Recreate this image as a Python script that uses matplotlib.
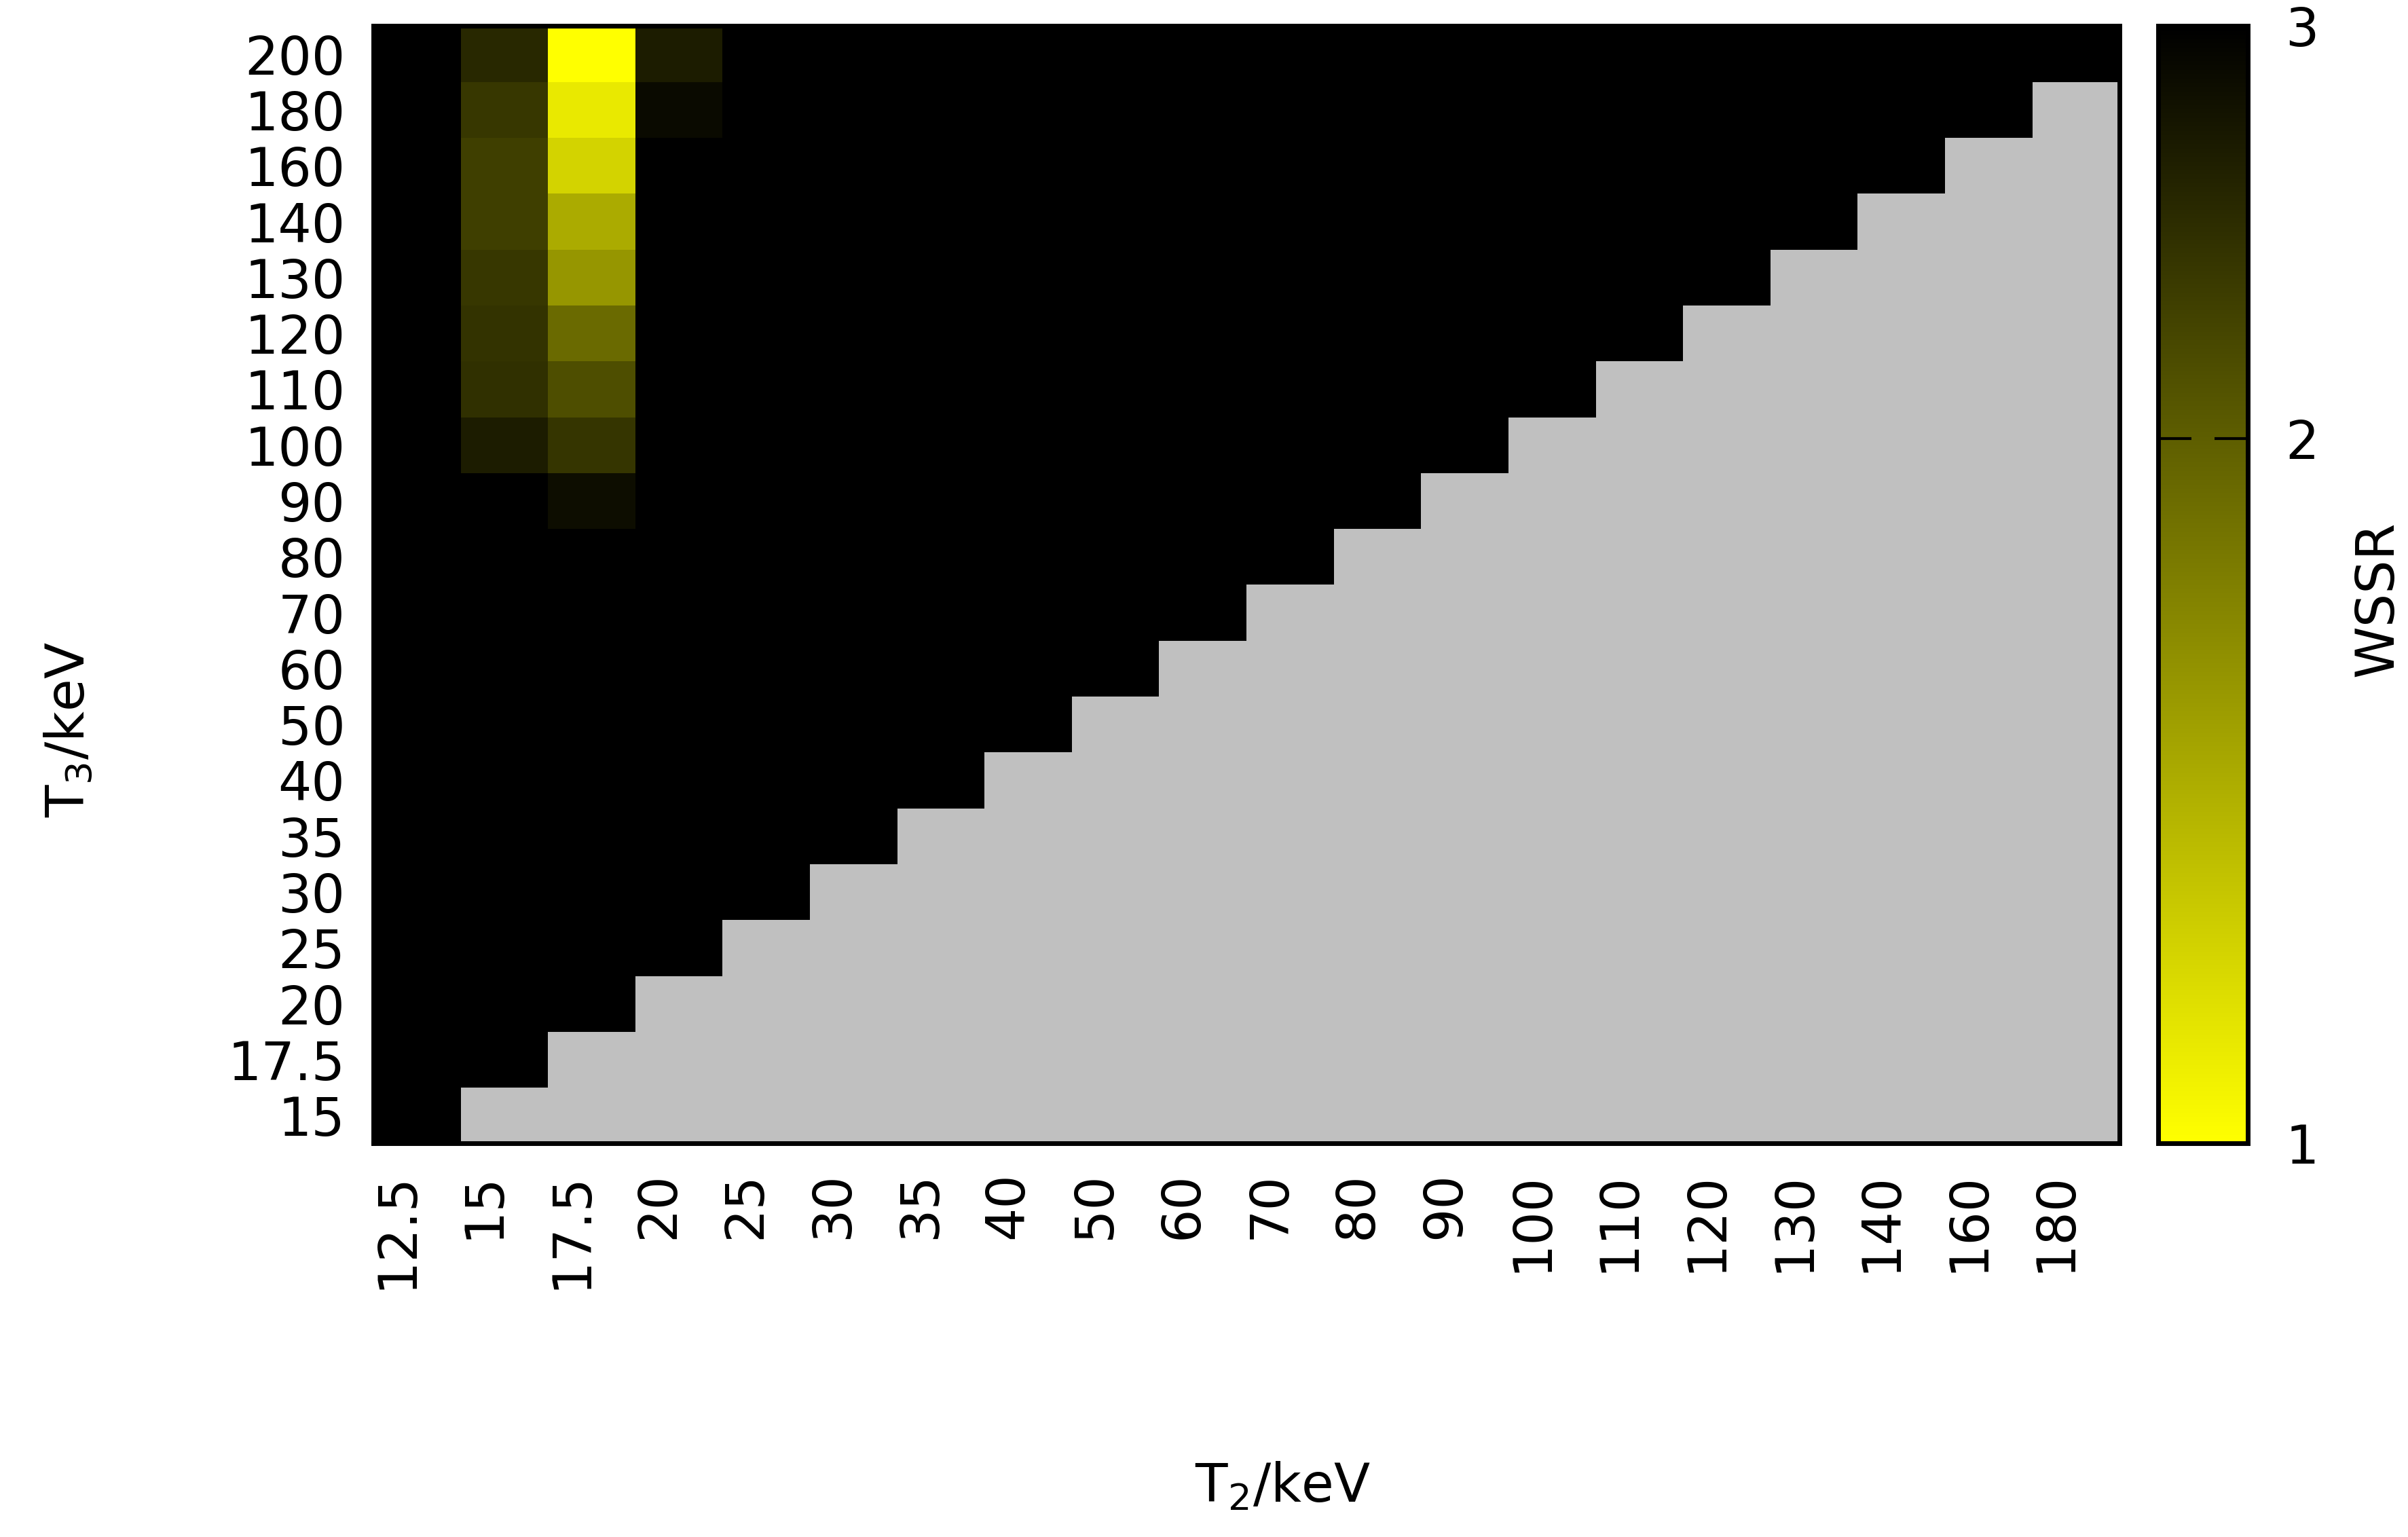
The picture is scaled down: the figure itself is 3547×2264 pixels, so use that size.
import numpy as np
import matplotlib
matplotlib.use('Agg')
import matplotlib.pyplot as plt
import matplotlib.transforms as mtransforms
from matplotlib.colors import LinearSegmentedColormap, LogNorm

# axis categories (keV)
t2_labels = ['12.5', '15', '17.5', '20', '25', '30', '35', '40', '50', '60',
             '70', '80', '90', '100', '110', '120', '130', '140', '160', '180']
t3_labels = ['15', '17.5', '20', '25', '30', '35', '40', '50', '60', '70',
             '80', '90', '100', '110', '120', '130', '140', '160', '180', '200']
t2_vals = [float(s) for s in t2_labels]
t3_vals = [float(s) for s in t3_labels]

# WSSR, per T2 column, rows T3 = 15 ... 200
wssr_125 = [3.0] * 20
wssr_15 = [3.0, 3.0, 3.0, 3.0, 3.0, 3.0, 3.0, 3.0, 3.0, 3.0,
           3.0, 3.0, 2.66, 2.44, 2.41, 2.36, 2.28, 2.28, 2.36, 2.52]
wssr_175 = [3.0, 3.0, 3.0, 3.0, 3.0, 3.0, 3.0, 3.0, 3.0, 3.0,
            3.0, 2.83, 2.38, 2.14, 1.90, 1.57, 1.44, 1.21, 1.10, 1.0]
wssr_20 = [3.0, 3.0, 3.0, 3.0, 3.0, 3.0, 3.0, 3.0, 3.0, 3.0,
           3.0, 3.0, 3.0, 3.0, 3.0, 3.0, 3.0, 3.0, 2.87, 2.66]
wssr_rest = 3.0  # everything else saturates at the top of the scale

Z = np.full((len(t3_vals), len(t2_vals)), wssr_rest)
Z[:, 0] = wssr_125
Z[:, 1] = wssr_15
Z[:, 2] = wssr_175
Z[:, 3] = wssr_20
# no fit where T3 <= T2
for i, t3 in enumerate(t3_vals):
    for j, t2 in enumerate(t2_vals):
        if t3 <= t2:
            Z[i, j] = np.nan
Z = np.ma.masked_invalid(Z)

cmap = LinearSegmentedColormap.from_list('wssr', ['#ffff00', '#000000'])
cmap.set_bad('#c0c0c0')
cmap.set_over('#000000')
norm = LogNorm(vmin=1, vmax=3)

plt.rcParams['font.family'] = ['DejaVu Sans']
fs = 56

fig = plt.figure(figsize=(35.48, 22.64), dpi=100)
ax = fig.add_axes([0.155, 0.256, 0.725, 0.727])
mesh = ax.pcolormesh(np.arange(len(t2_vals) + 1), np.arange(len(t3_vals) + 1), Z,
                     cmap=cmap, norm=norm)
ax.set_xlim(0, len(t2_vals))
ax.set_ylim(0, len(t3_vals))
ax.set_xticks(np.arange(len(t2_vals)) + 0.5)
ax.set_xticklabels(t2_labels, rotation=90, fontsize=fs)
ax.set_yticks(np.arange(len(t3_vals)) + 0.5)
ax.set_yticklabels(t3_labels, fontsize=fs)
ax.tick_params(length=0, pad=30)
# gnuplot puts the rotated labels a little left of the column centre
shift = mtransforms.ScaledTranslation(-0.3, 0, fig.dpi_scale_trans)
for lab in ax.get_xticklabels():
    lab.set_transform(lab.get_transform() + shift)
for s in ax.spines.values():
    s.set_linewidth(5)

fig.text(835 / 1568, 1 - 968 / 1001, r'T$_2$/keV', fontsize=fs, ha='center', va='center')
fig.text(45 / 1568, 1 - 475 / 1001, r'T$_3$/keV', fontsize=fs, ha='center', va='center',
         rotation=90)

cax = fig.add_axes([0.896, 0.256, 0.0372, 0.727])
cb = fig.colorbar(mesh, cax=cax)
cb.outline.set_linewidth(5)
cax.minorticks_off()
cb.set_ticks([1, 2, 3])
cb.set_ticklabels(['1', '2', '3'])
cax.tick_params(direction='in', left=True, right=True, length=35, width=3,
                labelsize=fs, pad=40)
fig.text(1548 / 1568, 1 - 390 / 1001, 'WSSR', fontsize=fs, ha='center', va='center',
         rotation=90)

fig.savefig('out.png', dpi=100)
